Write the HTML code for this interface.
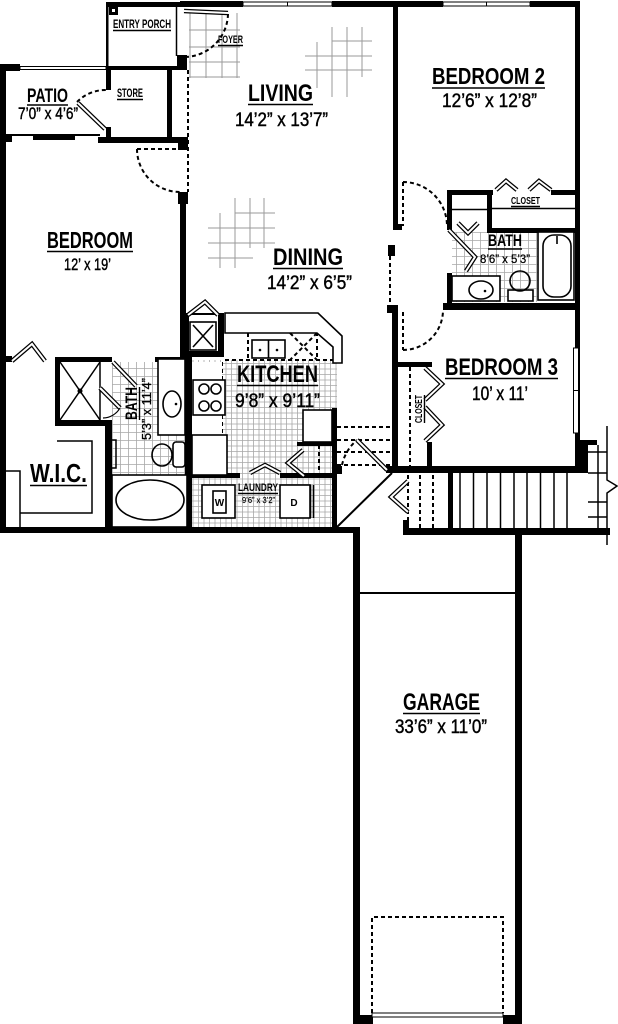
<!DOCTYPE html>
<html><head><meta charset="utf-8"><style>html,body{margin:0;padding:0;background:#fff}svg{display:block}</style></head>
<body>
<svg xmlns="http://www.w3.org/2000/svg" width="618" height="1024" viewBox="0 0 618 1024">
<defs>
<pattern id="g5" x="0" y="0" width="5.5" height="5.5" patternUnits="userSpaceOnUse"><path d="M0.5 0V5.5M0 0.5H5.5" stroke="#a8a8a8" stroke-width="0.8" fill="none"/></pattern>
<pattern id="g8" x="0" y="0" width="8" height="8" patternUnits="userSpaceOnUse"><path d="M0.5 0V8M0 0.5H8" stroke="#a8a8a8" stroke-width="0.8" fill="none"/></pattern>
</defs>
<rect width="618" height="1024" fill="#fff"/>

<!-- floor grids -->
<rect x="192" y="360" width="145" height="168" fill="url(#g5)"/>
<rect x="112" y="362" width="73" height="113" fill="url(#g8)"/>
<rect x="452" y="232" width="88" height="70" fill="url(#g8)"/>
<g stroke="#9a9a9a" stroke-width="1" fill="none">
  <path d="M190 13V78M206 13V78M222 13V78M237 13V78M189 30H240M189 47H240M189 62H240M189 77H240"/>
  <path d="M317 42V88M332 27V97M347 27V97M362 27V77M332 41H372M305 56H372M305 70H372"/>
  <path d="M220 213V268M235 198V268M250 198V248M264 198V248M235 213H275M208 228H275M208 243H275M208 258H253"/>
</g>

<!-- walls -->
<g fill="#000">
  <rect x="106" y="2" width="74" height="5"/>
  <rect x="180" y="1" width="63" height="6"/>
  <rect x="332" y="1" width="111" height="6"/>
  <rect x="530" y="1" width="50" height="6"/>
  <rect x="106" y="2" width="2.5" height="67"/>
  <rect x="106" y="66" width="74" height="4"/>
  <rect x="0" y="64" width="20" height="7"/>
  <rect x="0" y="64" width="6" height="469"/>
  <rect x="6" y="134" width="94" height="2"/>
  <rect x="0" y="134" width="12" height="8"/>
  <rect x="33" y="136" width="42" height="4"/>
  <rect x="98" y="137" width="90" height="6"/>
  <rect x="106" y="68" width="5" height="22"/>
  <rect x="106" y="127" width="5" height="12"/>
  <rect x="167" y="68" width="5" height="72"/>
  <rect x="177" y="55" width="10" height="15"/>
  <rect x="178" y="137" width="10" height="13"/>
  <rect x="178" y="192" width="10" height="12"/>
  <rect x="180" y="192" width="6" height="170"/>
  <rect x="55" y="357" width="57" height="5"/>
  <rect x="155" y="357" width="31" height="5"/>
  <rect x="55" y="357" width="5" height="68"/>
  <rect x="55" y="420" width="57" height="6"/>
  <rect x="105" y="420" width="7" height="110"/>
  <rect x="6" y="356" width="6" height="6"/>
  <rect x="0" y="527" width="360" height="6"/>
  <rect x="185" y="357" width="7" height="173"/>
  <!-- pantry -->
  <rect x="183" y="313" width="6" height="44"/>
  <rect x="218" y="313" width="6" height="44"/>
  <rect x="183" y="351" width="41" height="6"/>
  <rect x="183" y="313" width="41" height="2"/>
  <!-- kitchen / laundry -->
  <rect x="332" y="408" width="5" height="120"/>
  <rect x="297" y="442" width="40" height="4"/>
  <rect x="192" y="473" width="48" height="5"/>
  <rect x="280" y="473" width="57" height="5"/>
  <rect x="337" y="466" width="5" height="8"/>
  <!-- bedroom 3 -->
  <rect x="392" y="305" width="6" height="168"/>
  <rect x="387" y="305" width="11" height="8"/>
  <rect x="386" y="466" width="200" height="7"/>
  <rect x="397" y="362" width="35" height="5"/>
  <rect x="427" y="442" width="5" height="27"/>
  <!-- bedroom 2 / living -->
  <rect x="393" y="1" width="5" height="229"/>
  <rect x="393" y="224" width="9" height="6"/>
  <rect x="388" y="245" width="7" height="11"/>
  <!-- bath 2 -->
  <rect x="447" y="190" width="46" height="5"/>
  <rect x="487" y="190" width="5" height="42"/>
  <rect x="551" y="190" width="29" height="5"/>
  <rect x="487" y="228" width="93" height="5"/>
  <rect x="447" y="190" width="5" height="40"/>
  <rect x="447" y="273" width="5" height="35"/>
  <rect x="443" y="303" width="137" height="7"/>
  <!-- right wall -->
  <rect x="575" y="1" width="5" height="472"/>
  <rect x="575" y="440" width="13" height="33"/>
  <rect x="575" y="440" width="22" height="5"/>
  <!-- stairs / entry -->
  <rect x="448" y="472" width="5" height="58"/>
  <rect x="403" y="528" width="207" height="7"/>
  <rect x="403" y="520" width="6" height="15"/>
  <!-- garage -->
  <rect x="353" y="527" width="7" height="497"/>
  <rect x="515" y="530" width="7" height="494"/>
  <rect x="353" y="1015" width="20" height="9"/>
  <rect x="503" y="1015" width="19" height="9"/>
</g>

<!-- windows -->
<g fill="#fff" stroke="#000" stroke-width="1">
  <rect x="243" y="2" width="89" height="4"/>
  <rect x="443" y="2" width="87" height="4"/>
  <rect x="573.5" y="348" width="5" height="85"/>
  <rect x="20" y="66.5" width="86" height="3"/>
  <rect x="372" y="1013" width="131" height="4"/>
</g>
<path d="M287.5 2V6M486.5 2V6M573.5 390.5H578.5" stroke="#000" stroke-width="1"/>

<!-- thin lines -->
<g stroke="#000" stroke-width="1.5" fill="none">
  <path d="M176.5 7V56"/>
  <path d="M6 471H20V528M20 513H92V441H57"/>
  <path d="M100 362V420"/>
  <path d="M60 362L100 420M100 362L60 420"/>
  <path d="M452 209.5H487M492 208.5H575"/>
  <path d="M337 527L392 473" stroke-width="2"/>
  <path d="M360 593H515" stroke-width="2"/>
  <path d="M460 473V528M473.5 473V528M487 473V528M500.5 473V528M514 473V528M527 473V528M540.5 473V528M554 473V528M567 473V528"/>
  <path d="M598 445V530M607 426V480L617 486L607 493V545M588 452H607M588 473H607M588 502H607M588 517H607"/>
  <path d="M112 440h4v28h-4" />
</g>
<rect x="109" y="6" width="9" height="9" fill="#000"/>
<rect x="112" y="9" width="3" height="3" fill="#fff"/>
<circle cx="80" cy="391" r="2.5" fill="#000"/>

<!-- dashed -->
<g stroke="#000" stroke-width="2" fill="none" stroke-dasharray="4 3">
  <path d="M188 70V192"/>
  <path d="M390 256V305"/>
  <path d="M77 102A40 40 0 0 1 106 90"/>
  <path d="M228 14A44 44 0 0 1 184 57"/>
  <path d="M137 149H178M137 149A43 43 0 0 0 180 192"/>
  <path d="M403 182V226M403 182A44 44 0 0 1 447 226"/>
  <path d="M403 312V350M403 350A40 40 0 0 0 443 310"/>
  <path d="M337 427H390M337 440H390M337 452H390M337 465H390"/>
  <path d="M342 465A45 45 0 0 1 357 440"/>
  <path d="M408 475V528M420 475V528M433 475V528"/>
  <path d="M410 367V466"/>
  <path d="M319 410V475"/>
  <path d="M372 1013V917H503V1013"/>
  <path d="M228 325H318M225 360H333M248 333V360M290 333L317 360M317 333L290 360M317 325V360"/>
  <path d="M222 362V380M222 415V435M206 415V473"/>
</g>

<!-- double-line doors / chevrons -->
<g fill="none" stroke-linejoin="miter">
  <g stroke="#000" stroke-width="4.5">
    <path d="M78 103L105 129"/>
    <path d="M184 11L228 13"/>
    <path d="M113 362L136 386"/>
    <path d="M100 388L120 408"/>
    <path d="M357 440L387 470"/>
    <path d="M12 361L32 344L45 361"/>
    <path d="M188 315L205 302L218 315"/>
    <path d="M496 190L506 181L517 190M529 190L539 181L551 190"/>
    <path d="M458 223L468 233L478 223"/>
    <path d="M449 230L475 257L466 271"/>
    <path d="M425 368L442 384L425 400M425 407L442 425L425 441"/>
    <path d="M250 473L265 465L280 473"/>
    <path d="M303 450L288 463L304 476"/>
    <path d="M408 481L391 497L408 512"/>
  </g>
  <g stroke="#fff" stroke-width="2">
    <path d="M78 103L105 129"/>
    <path d="M184 11L228 13"/>
    <path d="M113 362L136 386"/>
    <path d="M100 388L120 408"/>
    <path d="M357 440L387 470"/>
    <path d="M12 361L32 344L45 361"/>
    <path d="M188 315L205 302L218 315"/>
    <path d="M496 190L506 181L517 190M529 190L539 181L551 190"/>
    <path d="M458 223L468 233L478 223"/>
    <path d="M449 230L475 257L466 271"/>
    <path d="M425 368L442 384L425 400M425 407L442 425L425 441"/>
    <path d="M250 473L265 465L280 473"/>
    <path d="M303 450L288 463L304 476"/>
    <path d="M408 481L391 497L408 512"/>
  </g>
</g>
<path d="M103 418A20 20 0 0 0 120 408" stroke="#000" stroke-width="1.2" fill="none"/>

<!-- fixtures -->
<g stroke="#000" stroke-width="1.6" fill="#fff">
  <rect x="190" y="322" width="26" height="28" fill="none"/>
  <path d="M225 313H318L342 336V363H333V347L317 333H225Z"/>
  <rect x="252" y="340" width="33" height="18"/>
  <rect x="192" y="362" width="30" height="113" stroke="none"/>
  <rect x="193" y="380" width="32" height="35"/>
  <rect x="192" y="435" width="35" height="40"/>
  <rect x="303" y="410" width="29" height="32"/>
  <rect x="202" y="485" width="33" height="33"/>
  <rect x="213" y="491" width="13" height="22"/>
  <rect x="280" y="485" width="30" height="33"/>
  <rect x="158" y="359" width="27" height="76"/>
  <rect x="173" y="442" width="12" height="25" rx="3"/>
  <rect x="112" y="475" width="75" height="52"/>
  <rect x="538" y="232" width="36" height="68"/>
  <rect x="543" y="235" width="28" height="62" rx="11"/>
  <rect x="452" y="276" width="48" height="25"/>
  <rect x="508" y="290" width="25" height="11"/>
</g>
<g stroke="#000" stroke-width="1.6" fill="none">
  <path d="M193 325L213 347M213 325L193 347"/>
  <path d="M268.5 340V358M310.5 485V518M313.5 485V518"/>
  <circle cx="204" cy="389" r="5"/><circle cx="216" cy="389" r="5"/>
  <circle cx="204" cy="406" r="5"/><circle cx="216" cy="406" r="5"/>
  <ellipse cx="172" cy="404" rx="9" ry="13"/>
  <ellipse cx="162" cy="455" rx="10" ry="11"/>
  <ellipse cx="150" cy="500" rx="34" ry="20"/>
  <ellipse cx="481" cy="290" rx="12" ry="9"/>
  <circle cx="520" cy="281" r="10"/>
  <path d="M557 236V244"/>
</g>
<g fill="#000">
  <circle cx="260" cy="350" r="1.3"/><circle cx="277" cy="350" r="1.3"/>
  <circle cx="176" cy="404" r="1.3"/><circle cx="485" cy="291" r="1.3"/>
</g>

<!-- labels -->
<g font-family="'Liberation Sans Narrow','Liberation Sans',sans-serif" fill="#000">
  <g font-weight="700">
    <text x="113" y="28" font-size="12" textLength="58" lengthAdjust="spacingAndGlyphs">ENTRY PORCH</text>
    <text x="27" y="102" font-size="19" textLength="41" lengthAdjust="spacingAndGlyphs">PATIO</text>
    <text x="117" y="97" font-size="12" textLength="26" lengthAdjust="spacingAndGlyphs">STORE</text>
    <text x="218" y="43" font-size="11" textLength="25" lengthAdjust="spacingAndGlyphs">FOYER</text>
    <text x="248" y="101" font-size="24" textLength="65" lengthAdjust="spacingAndGlyphs">LIVING</text>
    <text x="273" y="265" font-size="24" textLength="70" lengthAdjust="spacingAndGlyphs">DINING</text>
    <text x="432" y="84" font-size="23" textLength="113" lengthAdjust="spacingAndGlyphs">BEDROOM 2</text>
    <text x="511" y="204" font-size="10" textLength="29" lengthAdjust="spacingAndGlyphs">CLOSET</text>
    <text x="488" y="246" font-size="17" textLength="34" lengthAdjust="spacingAndGlyphs">BATH</text>
    <text x="47" y="248" font-size="23" textLength="86" lengthAdjust="spacingAndGlyphs">BEDROOM</text>
    <text x="237" y="382" font-size="24" textLength="81" lengthAdjust="spacingAndGlyphs">KITCHEN</text>
    <text x="238" y="491" font-size="11" textLength="40" lengthAdjust="spacingAndGlyphs">LAUNDRY</text>
    <text x="445" y="375" font-size="24" textLength="113" lengthAdjust="spacingAndGlyphs">BEDROOM 3</text>
    <text x="30" y="482" font-size="26" textLength="57" lengthAdjust="spacingAndGlyphs">W.I.C.</text>
    <text x="403" y="710" font-size="24" textLength="77" lengthAdjust="spacingAndGlyphs">GARAGE</text>
    <text x="219.5" y="506" font-size="10" text-anchor="middle">W</text>
    <text x="294" y="506" font-size="10" text-anchor="middle">D</text>
    <text transform="translate(422,423) rotate(-90)" font-size="10" textLength="28" lengthAdjust="spacingAndGlyphs">CLOSET</text>
    <text transform="translate(137,420) rotate(-90)" font-size="17" textLength="33" lengthAdjust="spacingAndGlyphs">BATH</text>
  </g>
  <g font-weight="400" stroke="#000" stroke-width="0.45">
    <text x="18" y="119" font-size="17" textLength="60" lengthAdjust="spacingAndGlyphs">7’0” x 4’6”</text>
    <text x="235" y="126" font-size="19" textLength="93" lengthAdjust="spacingAndGlyphs">14’2” x 13’7”</text>
    <text x="267" y="289" font-size="19" textLength="85" lengthAdjust="spacingAndGlyphs">14’2” x 6’5”</text>
    <text x="442" y="107" font-size="19" textLength="95" lengthAdjust="spacingAndGlyphs">12’6” x 12’8”</text>
    <text x="480" y="263" font-size="12" textLength="50" lengthAdjust="spacingAndGlyphs" stroke-width="0.25">8’6” x 5’3”</text>
    <text x="64" y="270" font-size="17" textLength="47" lengthAdjust="spacingAndGlyphs">12’ x 19’</text>
    <text x="235" y="407" font-size="19" textLength="85" lengthAdjust="spacingAndGlyphs">9’8” x 9’11”</text>
    <text x="242" y="503" font-size="8" textLength="33" lengthAdjust="spacingAndGlyphs" stroke-width="0.15">9’6” x 3’2”</text>
    <text x="472" y="400" font-size="19" textLength="56" lengthAdjust="spacingAndGlyphs">10’ x 11’</text>
    <text x="395" y="733" font-size="19" textLength="92" lengthAdjust="spacingAndGlyphs">33’6” x 11’0”</text>
    <text transform="translate(151,440) rotate(-90)" font-size="13" textLength="62" lengthAdjust="spacingAndGlyphs" stroke-width="0.3">5’3” x 11’4”</text>
  </g>
</g>
<!-- underlines -->
<g stroke="#000" stroke-width="1.4">
  <path d="M113 30.5H171M27 105H68M117 99.5H143M218 45.5H243M248 104.5H313M273 268.5H343M432 88H545M511 206.5H540M488 249H522M47 251.5H133M237 385.5H318M238 493.5H278M445 378.5H558M30 485.5H87M403 713.5H480M424.5 395V423M139.5 387V420"/>
</g>
</svg>
</body></html>
